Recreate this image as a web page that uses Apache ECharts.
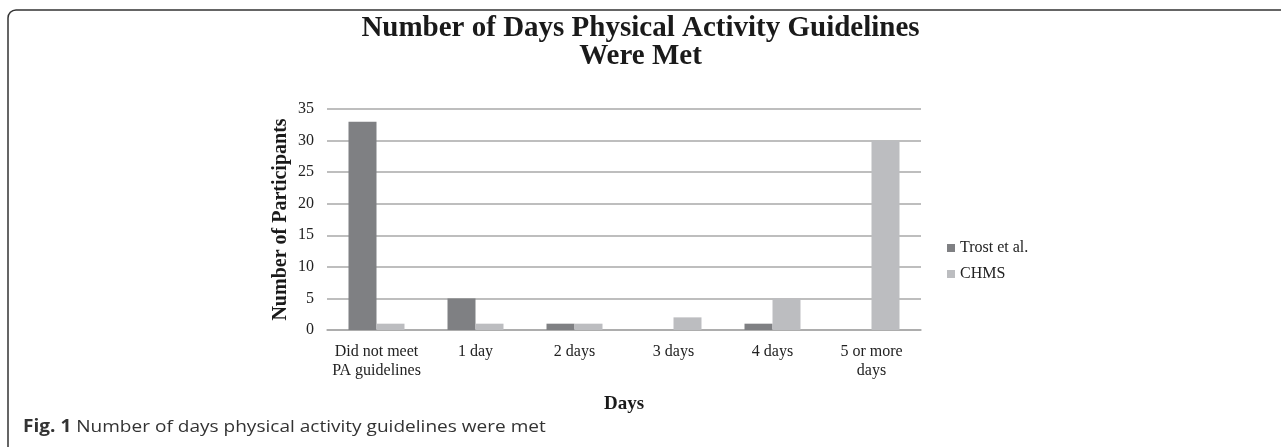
<!DOCTYPE html>
<html>
<head>
<meta charset="utf-8">
<script src="https://cdn.jsdelivr.net/npm/echarts@6/dist/echarts.min.js"></script>
<style>
  html, body { margin: 0; padding: 0; background: #fff; }
  #chart { width: 1281px; height: 447px; }
</style>
</head>
<body>
<div id="chart"></div>
<script>
// categories and values
const categories = ['Did not meet\nPA guidelines', '1 day', '2 days', '3 days', '4 days', '5 or more\ndays'];
const trostValues = [33, 5, 1, 0, 1, 0];
const chmsValues = [1, 1, 1, 2, 5, 30];
const seriesNames = ['Trost et al.', 'CHMS'];
const yTicks = { min: 0, max: 35, interval: 5 };

const serif = 'Liberation Serif';
const chart = echarts.init(document.getElementById('chart'));

const option = {
  animation: false,
  backgroundColor: '#fff',
  title: {
    text: 'Number of Days Physical Activity Guidelines\nWere Met',
    left: 'center',
    top: 10,
    textStyle: {
      fontFamily: serif,
      fontSize: 29,
      fontWeight: 'bold',
      color: '#1a1a1a',
      lineHeight: 28
    }
  },
  legend: {
    orient: 'vertical',
    left: 942,
    top: 235,
    itemWidth: 8,
    itemHeight: 8,
    itemGap: 10,
    icon: 'rect',
    data: seriesNames,
    textStyle: { fontFamily: serif, fontSize: 16, color: '#222' }
  },
  grid: { left: 327, right: 360, top: 109, bottom: 117 },
  xAxis: {
    type: 'category',
    data: categories,
    name: 'Days',
    nameLocation: 'middle',
    nameGap: 65,
    nameTextStyle: { fontFamily: serif, fontSize: 19, fontWeight: 'bold', color: '#1a1a1a' },
    axisTick: { show: false },
    axisLine: { lineStyle: { color: '#a8a8a8', width: 1.5 } },
    axisLabel: { interval: 0, fontFamily: serif, fontSize: 16, color: '#222', margin: 12, lineHeight: 19 }
  },
  yAxis: {
    type: 'value',
    min: yTicks.min,
    max: yTicks.max,
    interval: yTicks.interval,
    name: 'Number of Participants',
    nameLocation: 'middle',
    nameGap: 36,
    nameTextStyle: { fontFamily: serif, fontSize: 20, fontWeight: 'bold', color: '#1a1a1a' },
    axisLine: { show: false },
    axisTick: { show: false },
    axisLabel: { fontFamily: serif, fontSize: 16, color: '#222', margin: 13 },
    splitLine: { lineStyle: { color: '#a8a8a8', width: 1.5 } }
  },
  series: [
    {
      name: seriesNames[0],
      type: 'bar',
      data: trostValues,
      barWidth: 28,
      barGap: '0%',
      itemStyle: { color: '#7f8083' }
    },
    {
      name: seriesNames[1],
      type: 'bar',
      data: chmsValues,
      barWidth: 28,
      itemStyle: { color: '#bcbdc0' }
    }
  ],
  graphic: [
    {
      type: 'rect',
      shape: { x: 8, y: 10, width: 1300, height: 460, r: 8 },
      style: { fill: 'none', stroke: '#333', lineWidth: 1.5 }
    },
    {
      // caption runs a little wider than Open Sans in the reference
      type: 'text',
      x: 23,
      y: 419,
      scaleX: 1.12,
      style: {
        text: '{b|Fig. 1} Number of days physical activity guidelines were met',
        rich: {
          b: { fontFamily: 'Open Sans', fontSize: 17, fontWeight: 'bold', fill: '#333' }
        },
        fontFamily: 'Open Sans',
        fontSize: 17,
        fill: '#333'
      }
    }
  ]
};

chart.setOption(option);
</script>
</body>
</html>
